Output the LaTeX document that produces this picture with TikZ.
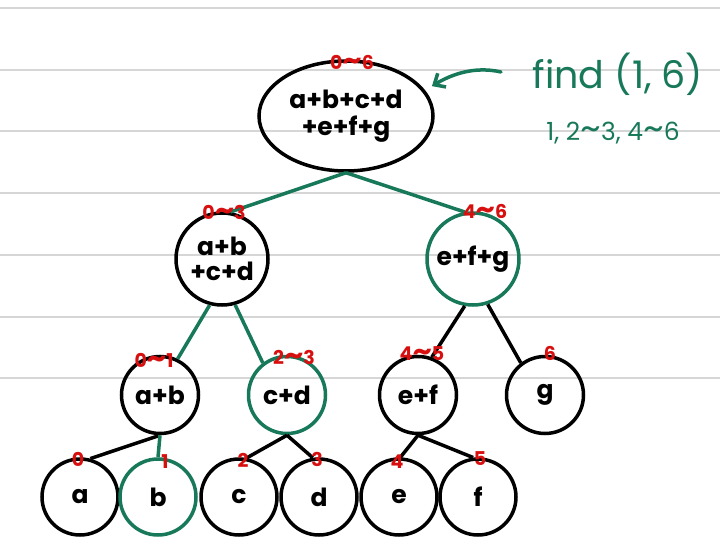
\documentclass[tikz,border=0pt]{standalone}
\usepackage{fontspec}
\setmainfont{Poppins}
\usetikzlibrary{arrows.meta,shapes.geometric}
\definecolor{tgreen}{HTML}{17785A}
\definecolor{tred}{HTML}{D80F0F}
\definecolor{rulec}{HTML}{D6D6D6}
\newcommand{\tl}{\scalebox{1.6}[1.4]{\textasciitilde}}
\begin{document}
\begin{tikzpicture}[x=1pt,y=-1pt,
  rulel/.style={draw=rulec,line width=1.4pt},
  nd/.style={circle,draw=black,line width=3.5pt,minimum size=#1,inner sep=0pt,align=center,
    font=\fontsize{25}{25}\selectfont\bfseries},
  gnd/.style={nd=#1,draw=tgreen},
  blk/.style={draw=black,line width=3.5pt},
  grn/.style={draw=tgreen,line width=3.5pt},
  rng/.style={text=tred,font=\fontsize{19}{19}\selectfont\bfseries,inner sep=0pt},
  note/.style={text=tgreen,inner sep=0pt}]
\useasboundingbox (0,0) rectangle (720,556);
\fill[white] (0,0) rectangle (720,556);
\foreach \yy in {8,70,131,193,255,317,378} \draw[rulel] (0,\yy) -- (720,\yy);

% nodes
\node[ellipse,draw=black,line width=3.5pt,minimum width=174pt,minimum height=110pt,inner sep=0pt,align=center,
  font=\fontsize{25}{27}\selectfont\bfseries] (root) at (346,116) {a+b+c+d\\+e+f+g};
\node[nd=92pt] (n03) at (222,259) {a+b\\+c+d};
\node[gnd=92pt] (n46) at (473,259) {e+f+g};
\node[nd=77pt] (n01) at (160,395) {a+b};
\node[gnd=77pt] (n23) at (287,395) {c+d};
\node[nd=77pt] (n45) at (418,395) {e+f};
\node[nd=77pt] (n6) at (545,395) {g};
\node[nd=76pt] (la) at (80,497) {a};
\node[gnd=76pt] (lb) at (158,497) {b};
\node[nd=76pt] (lc) at (239,497) {c};
\node[nd=76pt] (ld) at (319,497) {d};
\node[nd=76pt] (le) at (399,497) {e};
\node[nd=76pt] (lf) at (478,497) {f};

% edges
\draw[grn] (root.south) -- (n03.80);
\draw[grn] (root.south) -- (n46.100);
\draw[grn] (n03.255) -- (n01.64);
\draw[grn] (n03.286) -- (n23.127);
\draw[blk] (n46.260) -- (n45.70);
\draw[blk] (n46.288) -- (n6.127);
\draw[blk] (n01.south) -- (la.75);
\draw[grn] (n01.south) -- (lb.north);
\draw[blk] (n23.south) -- (lc.79);
\draw[blk] (n23.south) -- (ld.99);
\draw[blk] (n45.south) -- (le.88);
\draw[blk] (n45.south) -- (lf.97);

% range labels
\node[rng] (r06) at (352,62) {0\tl6};
\node[rng] (r03) at (224,212) {0\tl3};
\node[rng] (r46) at (485,211) {4\tl6};
\node[rng] (r01) at (154,360) {0\tl1};
\node[rng] (r23) at (294,357) {2\tl3};
\node[rng] (r45) at (422,354) {4\tl5};
\node[rng] (r6) at (550,353) {6};
\node[rng] (r0) at (78,459) {0};
\node[rng] (r1) at (165,462) {1};
\node[rng] (r2) at (243,460) {2};
\node[rng] (r3) at (317,459) {3};
\node[rng] (r4) at (397,462) {4};
\node[rng] (r5) at (480,459) {5};

% annotation
\node[note,font=\fontsize{38}{38}\selectfont] (find) at (618,74) {find (1, 6)};
\node[note,font=\fontsize{25}{25}\selectfont] (seg) at (613,133) {1, 2\tl3, 4\tl6};
\coordinate (arrS) at (501,72);
\draw[grn,line cap=round,-{Straight Barb[length=9pt,width=16pt]},shorten >=8pt]
  (arrS) .. controls (475,66) and (452,74) .. (root.18);
\end{tikzpicture}
\end{document}
